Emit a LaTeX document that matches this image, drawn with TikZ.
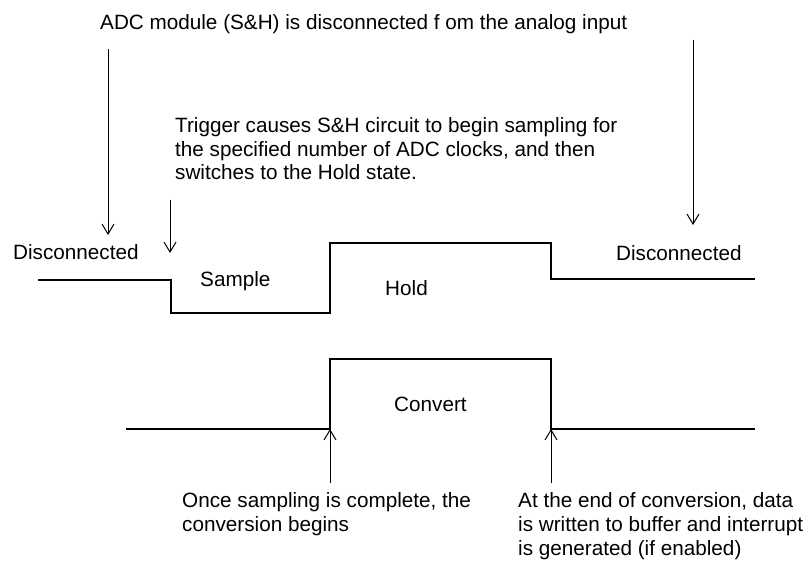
\documentclass[tikz,border=0pt]{standalone}
\usepackage{fontspec}
\setmainfont{Liberation Sans}
\usetikzlibrary{arrows.meta}
\begin{document}
\begin{tikzpicture}[x=1bp,y=-1bp,
  lbl/.style={inner sep=0pt,anchor=base west,font=\fontsize{20.7bp}{23.8bp}\selectfont},
  mlbl/.style={lbl,align=left},
  wave/.style={line width=2bp,line join=miter},
  note/.style={line width=1bp,-{Straight Barb[length=10bp,width=12bp,line width=1bp]}}]
\useasboundingbox[fill=white] (0,0) rectangle (806,561);
% text (multi-line nodes are placed by the baseline of their last line)
\node[lbl] (top) at (100,30) {ADC module (S\&H) is disconnected f om the analog input};
\node[mlbl] (trig) at (175,180) {Trigger causes S\&H circuit to begin sampling for\\the specified number of ADC clocks, and then\\switches to the Hold state.};
\node[lbl] (disL) at (13,260) {Disconnected};
\node[lbl] (disR) at (616,261) {Disconnected};
\node[lbl] (samp) at (200,287) {Sample};
\node[lbl] (hold) at (385,296) {Hold};
\node[lbl] (conv) at (394,411) {Convert};
\node[mlbl] (once) at (182,531) {Once sampling is complete, the\\conversion begins};
\node[mlbl] (endc) at (518,555) {At the end of conversion, data\\is written to buffer and interrupt\\is generated (if enabled)};
% waveform corners
\coordinate (s0) at (38,280);
\coordinate (s1) at (171,280);
\coordinate (s2) at (171,313);
\coordinate (s3) at (330,313);
\coordinate (s4) at (330,243);
\coordinate (s5) at (551,243);
\coordinate (s6) at (551,279);
\coordinate (s7) at (755,279);
\coordinate (c0) at (126,429);
\coordinate (c1) at (330,429);
\coordinate (c2) at (330,359);
\coordinate (c3) at (551,359);
\coordinate (c4) at (551,429);
\coordinate (c5) at (755,429);
\draw[wave] (s0) -- (s1) -- (s2) -- (s3) -- (s4) -- (s5) -- (s6) -- (s7);
\draw[wave] (c0) -- (c1) -- (c2) -- (c3) -- (c4) -- (c5);
% arrow ends
\coordinate (a1s) at (108,49);  \coordinate (a1e) at (108,235);
\coordinate (a2s) at (170,200); \coordinate (a2e) at (170,253);
\coordinate (a3s) at (693,40);  \coordinate (a3e) at (693,225);
\coordinate (a4s) at (330,483);
\coordinate (a5s) at (551,483);
\draw[note] (a1s) -- (a1e);
\draw[note] (a2s) -- (a2e);
\draw[note] (a3s) -- (a3e);
\draw[note] (a4s) -- (c1);
\draw[note] (a5s) -- (c4);
\end{tikzpicture}
\end{document}
